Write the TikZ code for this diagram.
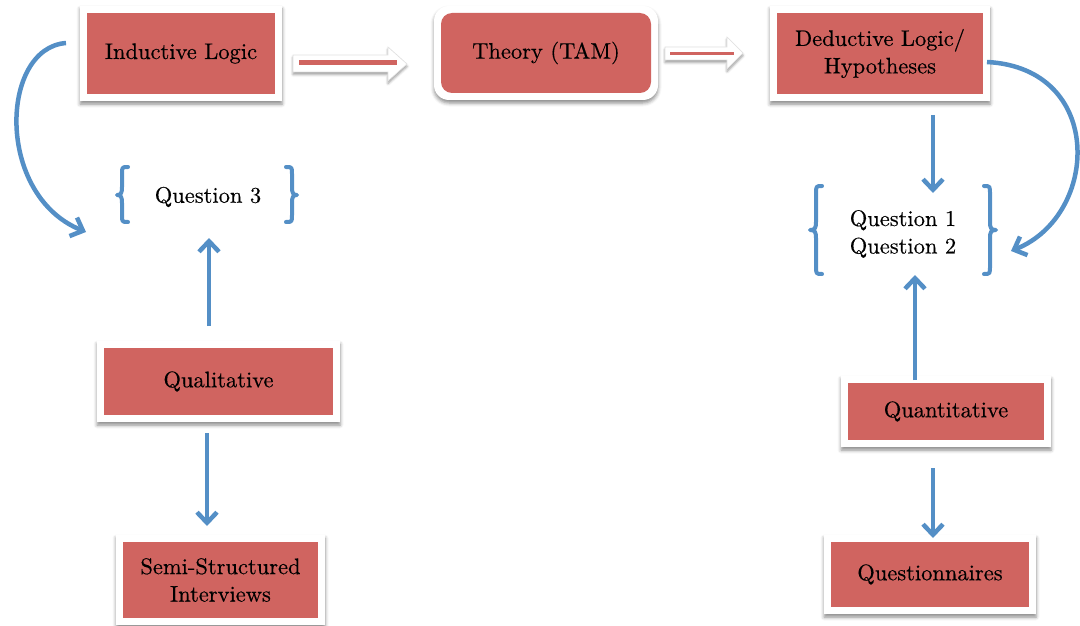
\documentclass[tikz,border=0pt]{standalone}
\usepackage{fontspec}
\newfontfamily\cardfont{lmroman10-regular}[Extension=.otf, FakeBold=0.4]
\usetikzlibrary{arrows.meta,shadows.blur}
\definecolor{boxred}{RGB}{208,100,96}
\definecolor{linkblue}{RGB}{84,143,198}
\tikzset{
  label font/.style={font=\cardfont\fontsize{22.5}{27.5}\selectfont},
  card/.style={label font, fill=white, draw=none, inner sep=0pt, align=center, text=black,
    blur shadow={shadow xshift=0pt, shadow yshift=-3pt, shadow blur radius=3.5pt, shadow opacity=45},
    path picture={\fill[boxred, rounded corners=#1]
      ([xshift=7pt,yshift=7pt]path picture bounding box.south west) rectangle
      ([xshift=-7pt,yshift=-7pt]path picture bounding box.north east);}},
  card/.default=0pt,
  question/.style={label font, align=center, inner sep=2pt},
  link/.style={draw=linkblue, line width=4.5pt, -{Straight Barb[length=10.5pt,width=20pt]}},
  bracket/.style={draw=linkblue, line width=4pt, line cap=round, line join=round},
  blockarrow/.style={fill=white, draw=black!12, line width=0.6pt,
    blur shadow={shadow xshift=0pt, shadow yshift=-2.5pt, shadow blur radius=2.5pt, shadow opacity=40}},
  redbar/.style={draw=boxred, line width=#1},
}
\begin{document}
\begin{tikzpicture}[x=1pt, y=-1pt]
\useasboundingbox (0,0) rectangle (1080,626);

% boxes: outer white frame, red panel inset by 7pt
\node[card, minimum width=202pt, minimum height=95pt] (ind) at (181,53.5) {Inductive Logic};
\node[card=11pt, rounded corners=15pt, minimum width=224pt, minimum height=94pt] (tam) at (546,53) {Theory (TAM)};
\node[card, minimum width=220pt, minimum height=95pt] (ded) at (880,53.5) {Deductive Logic/\\Hypotheses};
\node[card, minimum width=243pt, minimum height=81pt] (qual) at (218.5,381.5) {Qualitative};
\node[card, minimum width=209pt, minimum height=90pt] (semi) at (220.5,580) {Semi-Structured\\Interviews};
\node[card, minimum width=210pt, minimum height=71pt] (quant) at (946,411.5) {Quantitative};
\node[card, minimum width=212pt, minimum height=79pt] (quest) at (930,574.5) {Questionnaires};

% research questions
\node[question] (q3) at (208,197) {Question 3};
\node[question] (q12) at (903,234) {Question 1\\Question 2};

% brackets around Question 3
\draw[bracket] (128,167) .. controls (122,167) .. (122,174) -- (122,187)
  .. controls (122,193) and (121,195) .. (117,195) .. controls (121,195) and (122,197) .. (122,203) -- (122,215)
  .. controls (122,222) .. (128,222);
\draw[bracket] (286,167) .. controls (292,167) .. (292,174) -- (292,187)
  .. controls (292,193) and (293,195) .. (297,195) .. controls (293,195) and (292,197) .. (292,203) -- (292,215)
  .. controls (292,222) .. (286,222);

% brackets around Questions 1 and 2
\draw[bracket] (822,186) .. controls (816,186) .. (816,194) -- (816,222)
  .. controls (816,228) and (815,230) .. (810,230) .. controls (815,230) and (816,232) .. (816,238) -- (816,266)
  .. controls (816,274) .. (822,274);
\draw[bracket] (984,186) .. controls (990,186) .. (990,194) -- (990,222)
  .. controls (990,228) and (991,230) .. (996,230) .. controls (991,230) and (990,232) .. (990,238) -- (990,266)
  .. controls (990,274) .. (984,274);

% block arrows along the top row
\path[blockarrow] (293,55) -- (388,55) -- (388,47) -- (407,64) -- (388,81) -- (388,72) -- (293,72) -- cycle;
\draw[redbar=5pt] (299,63) -- (397,63);
\path[blockarrow] (665,47) -- (727,47) -- (727,37) -- (743,53) -- (727,69) -- (727,60) -- (665,60) -- cycle;
\draw[redbar=3pt] (670,53.5) -- (734,53.5);

% connector end points
\coordinate (indOut) at (66,43);
\coordinate (q3In) at (86,232);
\coordinate (qualUp) at (209,326);
\coordinate (q3Below) at (209,238);
\coordinate (qualDown) at (207,433);
\coordinate (semiIn) at (207,526);
\coordinate (dedDown) at (933,115);
\coordinate (q12Top) at (933,193);
\coordinate (dedOut) at (987,62);
\coordinate (q12In) at (1011,251);
\coordinate (quantUp) at (915,380);
\coordinate (q12Below) at (915,275);
\coordinate (quantDown) at (933,468);
\coordinate (questIn) at (933,538);

% connectors
\draw[link] (indOut) .. controls (0,48) and (-5,195) .. (q3In);
\draw[link] (qualUp) -- (q3Below);
\draw[link] (qualDown) -- (semiIn);
\draw[link] (dedDown) -- (q12Top);
\draw[link] (dedOut) .. controls (1105,68) and (1100,215) .. (q12In);
\draw[link] (quantUp) -- (q12Below);
\draw[link] (quantDown) -- (questIn);
\end{tikzpicture}
\end{document}
